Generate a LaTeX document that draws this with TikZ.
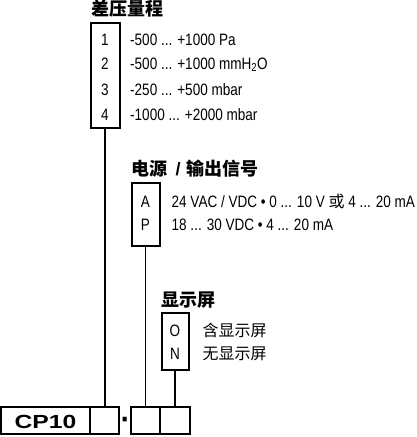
\documentclass[tikz,border=0pt]{standalone}
\usepackage{fontspec}
\usepackage{graphicx}
\newfontfamily\lat{Liberation Sans}[FakeStretch=0.82]
\newfontfamily\lsb{Liberation Sans}
\newfontfamily\cpf{Liberation Sans}[FakeStretch=1.3]
\newfontfamily\cjk{Noto Sans CJK SC}
\begin{document}
\begin{tikzpicture}[x=1pt,y=-1pt,
  optbox/.style={draw=black,line width=2pt,inner sep=0pt,fill=white},
  codebox/.style={draw=black,line width=2pt,inner sep=0pt,minimum height=27pt},
  conn/.style={draw=black,line width=1.5pt},
  title/.style={anchor=base west,inner sep=0pt,font=\cjk\bfseries\fontsize{18}{18}\selectfont},
  opt/.style={anchor=base west,inner sep=0pt,font=\lat\fontsize{16.5}{16.5}\selectfont},
  optc/.style={anchor=base west,inner sep=0pt,font=\cjk\fontsize{16}{16}\selectfont},
  key/.style={anchor=base,inner sep=0pt,font=\lat\fontsize{16.5}{16.5}\selectfont}]
\useasboundingbox (0,0) rectangle (417,437);

% bottom code row
\node[codebox,minimum width=89pt] (c1) at (45.5,420.5) {};
\node[codebox,minimum width=29.3pt] (c2) at (104.65,420.5) {};
\node[codebox,minimum width=29.3pt] (c3) at (145.65,420.5) {};
\node[codebox,minimum width=29.2pt] (c4) at (174.9,420.5) {};
\node[inner sep=0pt,font=\cpf\bfseries\fontsize{19}{19}\selectfont] (cp) at (45.5,421.5) {CP10};
\node[anchor=base,inner sep=0pt,font=\lsb\bfseries\fontsize{16}{16}\selectfont] (dash) at (125.3,429.3) {\scalebox{1}[2.4]{-}};

% option boxes
\node[optbox,minimum width=29pt,minimum height=105pt] (b1) at (105,75.5) {};
\node[optbox,minimum width=28pt,minimum height=63pt] (b2) at (145.5,214.5) {};
\node[optbox,minimum width=27pt,minimum height=57pt] (b3) at (175,341.5) {};

% connectors
\draw[conn] (b1.south) -- (b1.south |- c2.north);
\draw[conn] (b2.south) -- (b2.south |- c3.north);
\draw[conn] (b3.south) -- (b3.south |- c4.north);

% group 1
\node[title] (t1) at (91,15.8) {差压量程};
\node[key] (k11) at (105,45) {1};
\node[key] (k12) at (105,69) {2};
\node[key] (k13) at (105,95) {3};
\node[key] (k14) at (105,120) {4};
\node[opt] (o11) at (130,45) {-500 ... +1000 Pa};
\node[opt] (o12) at (130,69) {-500 ... +1000 mmH\textsubscript{2}O};
\node[opt] (o13) at (130,95) {-250 ... +500 mbar};
\node[opt] (o14) at (130,120) {-1000 ... +2000 mbar};

% group 2
\node[title] (t2) at (131.5,175.8) {电源\kern8pt{\lsb\bfseries /}\kern6pt 输出信号};
\node[key] (k21) at (145.5,207.4) {A};
\node[key] (k22) at (145.5,230.4) {P};
\node[opt] (o21) at (171.5,207.4) {24 VAC / VDC • 0 ... 10 V {\cjk\fontsize{16}{16}\selectfont 或} 4 ... 20 mA};
\node[opt] (o22) at (171.5,230.4) {18 ... 30 VDC • 4 ... 20 mA};

% group 3
\node[title] (t3) at (161.5,306.3) {显示屏};
\node[key] (k31) at (175,336.4) {O};
\node[key] (k32) at (175,359.9) {N};
\node[optc] (o31) at (202.5,336.4) {含显示屏};
\node[optc] (o32) at (202.5,359.9) {无显示屏};
\end{tikzpicture}
\end{document}
